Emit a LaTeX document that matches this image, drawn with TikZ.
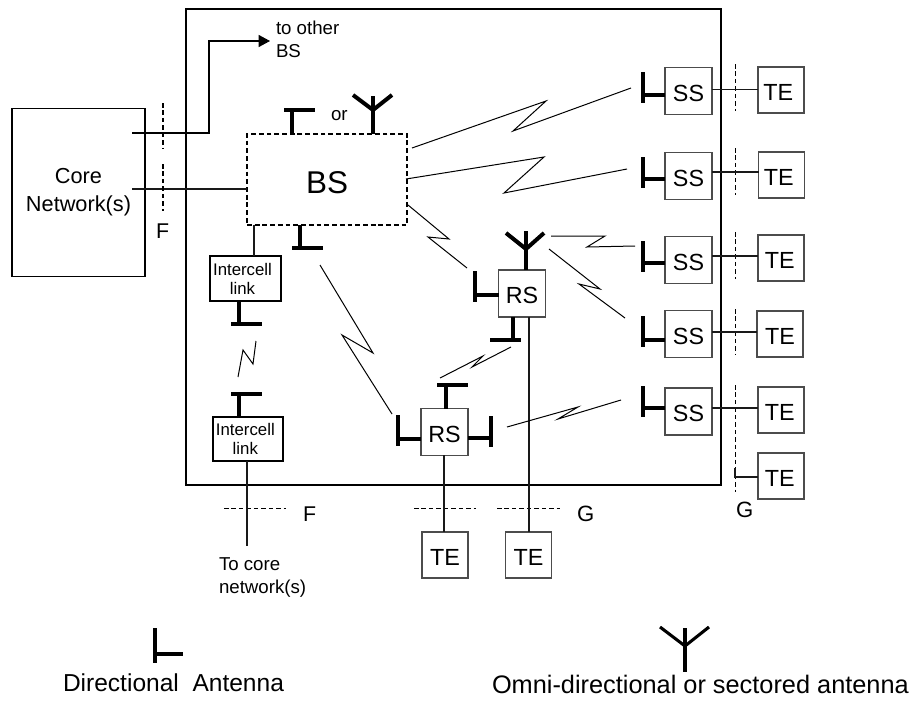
\documentclass[tikz,border=0pt]{standalone}
\usepackage{fontspec}
\setmainfont{Liberation Sans}
\usetikzlibrary{arrows.meta}
\definecolor{boxgray}{gray}{0.3}
\newcommand{\fsz}[1]{\fontsize{#1}{#1}\selectfont}
\tikzset{
  x=0.75pt,y=-0.75pt,
  box/.style n args={3}{rectangle,draw=boxgray,line width=0.8pt,minimum width=#1*0.75pt,minimum height=#2*0.75pt,
    text height=#3,text depth=0pt,inner sep=0pt,outer sep=0pt,font=\fsz{17.5}},
  mbox/.style 2 args={rectangle,draw=black,line width=1.3pt,minimum width=#1*0.75pt,minimum height=#2*0.75pt,
    inner sep=0pt,outer sep=0pt,align=center},
  lab/.style={anchor=base west,inner sep=0pt,outer sep=0pt},
  wire/.style={draw=black!90,line width=0.8pt},
  ant/.style={draw=black,line width=3pt},
  antthin/.style={draw=black,line width=2.3pt},
  zig/.style={draw=black,line width=0.75pt,line join=miter},
  cut/.style={draw=black,line width=0.7pt,dash pattern=on 3.4pt off 2.2pt},
  bsbox/.style={rectangle,draw=black,line width=1.2pt,dash pattern=on 3.6pt off 2.2pt,minimum width=160*0.75pt,minimum height=91*0.75pt,
    inner sep=0pt,outer sep=0pt,font=\fsz{23.6},text height=21.5pt,text depth=0pt},
}
\begin{document}
\begin{tikzpicture}
\useasboundingbox (0,0) rectangle (914,700);
% main boxes
\node[mbox={535}{476}] (cell) at (453.5,247) {};
\node[mbox={133}{168},font=\fontsize{16.3}{21}\selectfont] (core) at (78.5,192.5) {Core\\Network(s)};
\node[bsbox] (bs) at (327,179.5) {BS};
\node[mbox={71}{45},font=\fontsize{12.6}{14.3}\selectfont] (ic1) at (245.5,278.5) {Intercell\hspace*{4.5pt}\\link\hspace*{4.5pt}};
\node[mbox={70}{44},font=\fontsize{12.6}{14.3}\selectfont] (ic2) at (248,439) {Intercell\hspace*{4pt}\\link\hspace*{4pt}};
\node[box={47}{47}{15pt}] (rs1) at (522,293.5) {RS};
\node[box={47}{47}{15pt}] (rs2) at (444.5,432) {RS};
\node[box={47}{47}{15pt}] (ss1) at (688.5,91) {SS};
\node[box={47}{47}{15pt}] (ss2) at (688.5,176) {SS};
\node[box={47}{47}{15pt}] (ss3) at (688.5,260) {SS};
\node[box={47}{47}{15pt}] (ss4) at (688.5,334) {SS};
\node[box={47}{47}{15pt}] (ss5) at (688.5,411.5) {SS};
\node[box={46}{46}{15pt}] (te1) at (781,90) {\hspace*{-4pt}TE};
\node[box={46}{46}{15pt}] (te2) at (781.5,175) {\hspace*{-4pt}TE};
\node[box={46}{46}{15pt}] (te3) at (781,258) {\hspace*{-2pt}TE};
\node[box={46}{46}{15pt}] (te4) at (780,334) {TE};
\node[box={46}{46}{15pt}] (te5) at (781,410) {\hspace*{-2pt}TE};
\node[box={46}{46}{15pt}] (te6) at (781,476) {\hspace*{-2pt}TE};
\node[box={46}{46}{15pt}] (te7) at (445,555) {TE};
\node[box={46}{46}{15pt}] (te8) at (528.5,555) {TE};
% labels
\node[lab,font=\fontsize{14}{17}\selectfont,align=left,anchor=north west] (other) at (276,21) {to other\\BS};
\node[lab,font=\fsz{14}] (or) at (331,120) {or};
\node[lab,font=\fsz{16}] (f1) at (156,238) {F};
\node[lab,font=\fsz{16}] (f2) at (303,521) {F};
\node[lab,font=\fsz{16.6}] (g1) at (577,521) {G};
\node[lab,font=\fsz{16.6}] (g2) at (736,517) {G};
\node[lab,font=\fontsize{14}{17}\selectfont,align=left,anchor=north west] (tocore) at (219,558) {To core\\network(s)};
\node[lab,font=\fsz{18.4}] (ldir) at (63,691) {Directional\hspace{0.556em}Antenna};
\node[lab,font=\fsz{19}] (lomni) at (492,693) {Omni-directional or sectored antenna};
% core links
\coordinate (c1) at (132,133);
\coordinate (c2) at (132,189);
\coordinate (up) at (209,133);
\coordinate (arrowend) at (270,41);
\draw[wire,draw=black,-{Triangle[length=8.5pt,width=9pt]}] (c1) -- (up) |- (arrowend);
\draw[wire] (c2) -- (c2 -| bs.west);
% cut lines
\draw[cut,line width=1pt] (163,103) -- (163,149);
\draw[cut,line width=1pt] (163,164) -- (163,211);
\draw[cut] (224,508) -- (286,508);
\draw[cut] (414,508) -- (476,508);
\draw[cut] (497,508) -- (560,508);
\draw[cut] (735,64) -- (735,111);
\draw[cut] (735,148) -- (735,195);
\draw[cut] (735,232) -- (735,279);
\draw[cut] (735,309) -- (735,355);
\draw[cut] (735,385) -- (735,492);
% wires
\coordinate (b1) at (254,225);
\draw[wire] (b1) -- (b1 |- ic1.north);
\coordinate (w1) at (247,546);
\draw[wire] (w1 |- ic2.south) -- (w1);
\coordinate (w3) at (444,455);
\draw[wire] (w3) -- (w3 |- te7.north);
\coordinate (w2) at (529,317);
\draw[wire] (w2) -- (w2 |- te8.north);
\foreach \r/\y in {1/89.5,2/172,3/256,4/332,5/408}{
  \coordinate (l\r) at (735,\y);
  \draw[wire] (l\r -| ss\r.east) -- (l\r -| te\r.west);
}
\coordinate (l6) at (735,477);
\draw[wire] (735,468) -- (l6) -- (l6 -| te6.west);
% directional antennas on SS (bar left)
\foreach \r/\y/\t in {1/95/72,2/179/157,3/263/241,4/340/316,5/408/386}{
  \coordinate (a\r) at (643,\y);
  \draw[ant] (ss\r.west |- a\r) -- (a\r);
  \draw[ant] (643,\t) -- ++(0,31);
}
% RS1
\coordinate (ra1) at (475,295);
\draw[ant] (rs1.west |- ra1) -- (ra1);
\draw[ant] (475,271) -- ++(0,31);
\coordinate (ra2) at (513,340);
\draw[ant] (ra2 |- rs1.south) -- (ra2);
\draw[ant] (490,340) -- ++(31,0);
\coordinate (ra3) at (526,249);
\draw[ant] (ra3 |- rs1.north) -- (ra3);
\draw[ant] (506,233) -- (ra3) -- (544,233);
\draw[ant] (526,231) -- (ra3);
% RS2
\coordinate (rb1) at (398,439);
\draw[ant] (rs2.west |- rb1) -- (rb1);
\draw[ant] (398,415) -- ++(0,31);
\coordinate (rb2) at (491,438);
\draw[ant] (rs2.east |- rb2) -- (rb2);
\draw[ant] (491,416) -- ++(0,31);
\coordinate (rb3) at (446,385);
\draw[ant] (rb3 |- rs2.north) -- (rb3);
\draw[ant] (437,385) -- ++(31,0);
% BS antennas
\coordinate (ba1) at (292,110);
\draw[ant] (ba1 |- bs.north) -- (ba1);
\draw[ant] (284,110) -- ++(31,0);
\coordinate (ba2) at (300,248);
\draw[ant] (ba2 |- bs.south) -- (ba2);
\draw[ant] (292,248) -- ++(31,0);
\coordinate (ba3) at (373,110);
\draw[ant] (ba3 |- bs.north) -- (ba3);
\draw[ant] (353,95) -- (ba3) -- (392,95);
\draw[antthin] (373,96) -- (ba3);
% intercell antennas
\coordinate (ia1) at (239,324);
\draw[ant] (ia1 |- ic1.south) -- (ia1);
\draw[ant] (231,324) -- ++(31,0);
\coordinate (ia2) at (239,394);
\draw[ant] (ia2 |- ic2.north) -- (ia2);
\draw[ant] (231,394) -- ++(31,0);
% radio links
\draw[zig] (412,148) -- (546,101) -- (513,131) -- (631,88);
\draw[zig] (406,179) -- (544,157) -- (504,193) -- (627,169);
\draw[zig] (408,205) -- (449,239) -- (428,237) -- (467,268);
\draw[zig] (320,265) -- (373,353) -- (342,335) -- (392,414);
\draw[zig] (551,236) -- (605,236) -- (587,247) -- (635,246);
\draw[zig] (549,249) -- (600,289) -- (579,284) -- (625,318);
\draw[zig] (511,347) -- (472,367) -- (483,356) -- (440,378);
\draw[zig] (507,427) -- (578,407) -- (558,419) -- (621,400);
\draw[zig] (238,377) -- (243,350) -- (253,364) -- (256,341);
% legend
\coordinate (ld) at (155,654);
\draw[antthin] (ld) -- (183,654);
\draw[ant] (155,628) -- (155,663);
\coordinate (lj) at (685,646);
\draw[ant] (685,628) -- (685,672);
\draw[antthin] (660,627) -- (lj) -- (709,627);
\end{tikzpicture}
\end{document}
